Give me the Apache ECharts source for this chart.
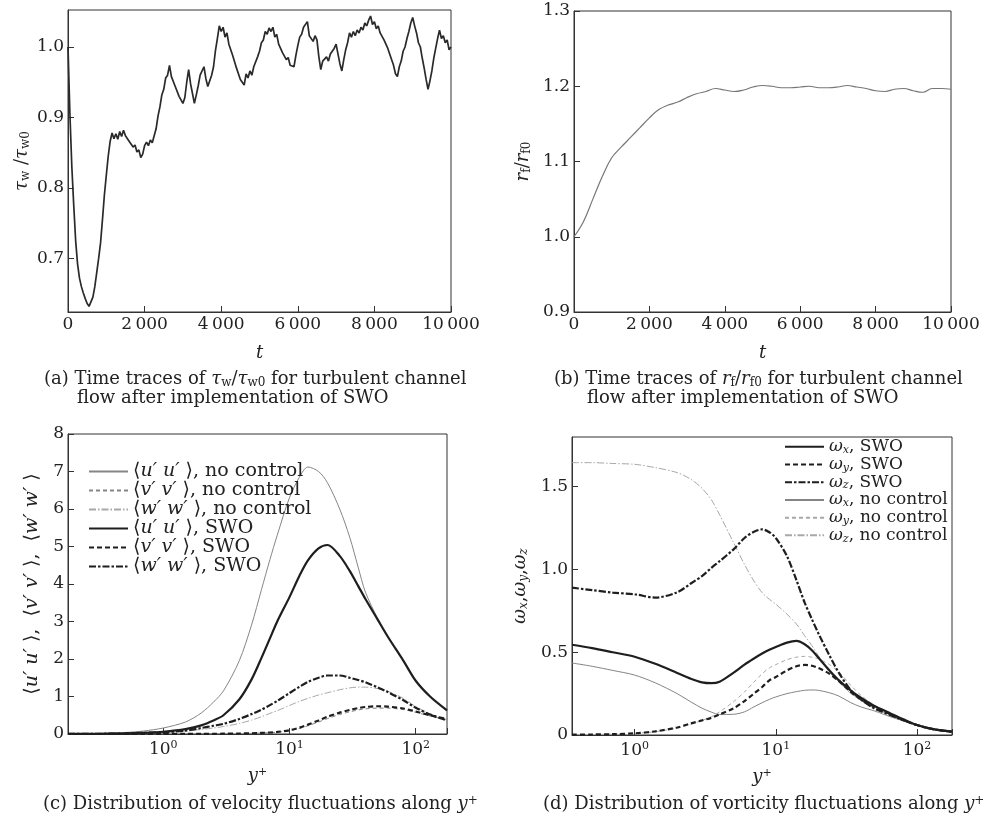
<!DOCTYPE html>
<html><head><meta charset="utf-8">
<script src="https://cdn.jsdelivr.net/npm/echarts@6/dist/echarts.min.js"></script>
<style>html,body{margin:0;padding:0;background:#fff}#c{width:985px;height:822px}</style>
</head><body><div id="c"></div>
<script>
// ---------- (a) tau_w / tau_w0 time trace (t step 50) ----------
const tauStep = 50;
const tauVals = [
1.000,0.905,0.830,0.775,0.725,0.692,0.672,0.660,0.651,0.643,
0.636,0.632,0.633,0.645,0.660,0.680,0.700,0.722,0.755,0.790,
0.818,0.845,0.866,0.878,0.870,0.877,0.869,0.880,0.873,0.882,
0.874,0.876,0.866,0.868,0.858,0.861,0.851,0.854,0.843,0.848,
0.860,0.865,0.860,0.868,0.864,0.874,0.884,0.902,0.915,0.932,
0.940,0.956,0.960,0.974,0.958,0.960,0.944,0.946,0.930,0.930,
0.920,0.928,0.950,0.968,0.948,0.934,0.920,0.932,0.945,0.960,
0.962,0.972,0.955,0.944,0.942,0.960,0.972,0.995,1.012,1.030,
1.022,1.028,1.014,1.020,1.004,1.006,0.988,0.988,0.970,0.970,
0.954,0.954,0.946,0.962,0.956,0.966,0.960,0.972,0.972,0.986,
0.994,1.006,1.010,1.022,1.018,1.027,1.022,1.028,1.014,1.018,
1.004,1.006,0.992,0.994,0.982,0.985,0.974,0.976,0.972,0.988,
1.002,1.014,1.018,1.028,1.030,1.036,1.016,1.018,1.008,1.016,
1.010,0.986,0.968,0.980,0.978,0.986,0.980,0.990,0.988,0.998,
1.004,0.990,0.976,0.966,0.982,0.996,1.006,1.020,1.014,1.022,
1.016,1.024,1.020,1.028,1.024,1.034,1.030,1.038,1.044,1.032,
1.036,1.026,1.030,1.020,1.022,1.010,1.012,0.998,0.998,0.982,
0.974,0.962,0.958,0.972,0.980,0.994,1.000,1.012,1.022,1.034,
1.042,1.030,1.020,1.006,1.000,0.984,0.970,0.954,0.940,0.952,
0.966,0.984,0.998,1.012,1.024,1.012,1.016,1.006,1.010,0.996,
1.000];
const tauTicks = [0.7, 0.8, 0.9, 1.0];

// ---------- (b) r_f / r_f0 time trace (t step 250) ----------
const rfStep = 250;
const rfVals = [1.000,1.020,1.050,1.080,1.105,1.119,1.132,1.145,1.158,1.169,
1.175,1.179,1.185,1.190,1.193,1.197,1.195,1.193,1.195,1.199,
1.201,1.200,1.198,1.198,1.199,1.200,1.198,1.198,1.199,1.201,
1.199,1.197,1.194,1.193,1.196,1.197,1.194,1.192,1.197,1.197,1.196];

// ---------- (c) velocity fluctuations ----------
const cYplus = [0.176,0.3,0.5,0.7,1,1.5,2,2.5,3,4,5,6,7,8,10,12,14,17,20,25,30,35,40,50,60,80,100,130,177];
const uuNC  = [0.005,0.012,0.04,0.08,0.16,0.32,0.56,0.85,1.15,1.95,2.9,3.85,4.65,5.3,6.3,6.85,7.12,7.0,6.7,6.0,5.25,4.45,3.78,3.08,2.6,1.95,1.42,1.0,0.63];
const vvNC  = [0,0,0,0.001,0.001,0.002,0.003,0.005,0.007,0.011,0.017,0.026,0.035,0.048,0.088,0.15,0.22,0.32,0.41,0.52,0.59,0.64,0.67,0.69,0.69,0.65,0.58,0.48,0.38];
const wwNC  = [0.002,0.004,0.012,0.024,0.045,0.08,0.12,0.16,0.2,0.28,0.37,0.46,0.55,0.62,0.76,0.87,0.95,1.04,1.1,1.18,1.23,1.25,1.25,1.21,1.14,0.95,0.73,0.54,0.37];
const uuSWO = [0.003,0.006,0.015,0.03,0.06,0.13,0.23,0.36,0.5,0.92,1.45,2.03,2.55,3.0,3.65,4.22,4.63,4.95,5.04,4.75,4.35,3.95,3.6,3.05,2.6,1.95,1.42,1.0,0.63];
const vvSWO = [0,0,0.001,0.001,0.002,0.003,0.004,0.006,0.008,0.013,0.02,0.03,0.04,0.055,0.1,0.17,0.25,0.36,0.46,0.57,0.64,0.69,0.72,0.74,0.73,0.68,0.6,0.5,0.4];
const wwSWO = [0.002,0.005,0.015,0.03,0.05,0.09,0.16,0.22,0.27,0.4,0.53,0.65,0.77,0.88,1.09,1.26,1.39,1.5,1.56,1.56,1.5,1.44,1.38,1.24,1.12,0.9,0.7,0.52,0.36];
const cNames = ['⟨u′u′⟩, no control','⟨v′v′⟩, no control','⟨w′w′⟩, no control','⟨u′u′⟩, SWO','⟨v′v′⟩, SWO','⟨w′w′⟩, SWO'];

// ---------- (d) vorticity fluctuations ----------
const dYplus = [0.36,0.5,0.7,1,1.4,2,2.5,3,3.5,4,5,6,7,8,9,10,12,14,16,18,20,24,28,34,40,50,65,80,100,130,177];
const wxSWO = [0.545,0.525,0.500,0.473,0.43,0.375,0.34,0.318,0.313,0.322,0.375,0.425,0.462,0.492,0.515,0.532,0.558,0.568,0.548,0.512,0.468,0.39,0.33,0.268,0.225,0.175,0.13,0.095,0.06,0.035,0.02];
const wySWO = [0.002,0.003,0.005,0.01,0.022,0.045,0.07,0.088,0.104,0.125,0.16,0.205,0.25,0.29,0.33,0.35,0.39,0.415,0.423,0.418,0.405,0.37,0.325,0.26,0.215,0.17,0.125,0.09,0.06,0.035,0.02];
const wzSWO = [0.89,0.875,0.86,0.85,0.83,0.862,0.915,0.96,1.01,1.05,1.12,1.19,1.228,1.242,1.225,1.19,1.08,0.935,0.8,0.7,0.615,0.48,0.375,0.27,0.215,0.16,0.12,0.09,0.06,0.035,0.02];
const wxNC  = [0.435,0.415,0.39,0.362,0.315,0.25,0.2,0.162,0.138,0.124,0.125,0.14,0.17,0.195,0.215,0.23,0.25,0.262,0.27,0.272,0.27,0.255,0.235,0.195,0.17,0.145,0.11,0.085,0.06,0.035,0.02];
const wyNC  = [0.002,0.003,0.005,0.01,0.02,0.042,0.065,0.088,0.11,0.14,0.2,0.26,0.32,0.37,0.405,0.425,0.455,0.47,0.475,0.47,0.46,0.425,0.38,0.3,0.24,0.18,0.125,0.09,0.06,0.035,0.02];
const wzNC  = [1.645,1.645,1.64,1.635,1.615,1.585,1.545,1.49,1.42,1.33,1.165,1.03,0.93,0.86,0.82,0.79,0.73,0.67,0.6,0.54,0.48,0.38,0.32,0.25,0.21,0.16,0.12,0.09,0.06,0.035,0.02];
const dNames = ['ωx, SWO','ωy, SWO','ωz, SWO','ωx, no control','ωy, no control','ωz, no control'];

// ---------- build ----------
const F = 'DejaVu Serif';
const INK = '#222';
const pairs = (xs, ys) => ys.map((v, i) => [xs[i], v]);
const stepPairs = (step, ys) => ys.map((v, i) => [i * step, v]);
const thou = v => v >= 1000 ? String(v).replace(/\B(?=(\d{3})+(?!\d))/g, '\u2009') : String(v);
const logLab = v => { const e = Math.round(Math.log10(v)); return Math.abs(v - Math.pow(10, e)) < 1e-6 * Math.pow(10, e) ? '{b|10}{p|' + e + '}' : ''; };
const richBase = {
  i: {fontFamily: F, fontStyle: 'italic', fontSize: 18, color: INK},
  n: {fontFamily: F, fontSize: 18, color: INK},
  ic: {fontFamily: F, fontStyle: 'italic', fontSize: 19, color: INK},
  nc: {fontFamily: F, fontSize: 19, color: INK},
  s: {fontFamily: F, fontSize: 12, color: INK, verticalAlign: 'bottom', padding: [8, 0, 0, 0]},
  si: {fontFamily: F, fontStyle: 'italic', fontSize: 12, color: INK, verticalAlign: 'bottom', padding: [8, 0, 0, 0]},
  p: {fontFamily: F, fontSize: 11, color: INK, verticalAlign: 'top', padding: [0, 0, 8, 0]},
  b: {fontFamily: F, fontSize: 17, color: INK}
};
const axLine = {show: true, lineStyle: {color: '#333', width: 1}};
const axTick = {show: true, inside: true, length: 6, lineStyle: {color: '#333'}};
const lab = extra => Object.assign({color: INK, fontFamily: F, fontSize: 17, margin: 4, rich: richBase}, extra || {});
const nameStyle = {fontFamily: F, fontSize: 18, color: INK, rich: richBase};

const grids = [
  {left: 68, top: 10, width: 383, height: 302},
  {left: 574, top: 11, width: 377, height: 301},
  {left: 68, top: 434, width: 379, height: 300},
  {left: 572, top: 437, width: 380, height: 298}
].map(g => Object.assign({show: true, borderColor: '#333', borderWidth: 1, containLabel: false}, g));

const xAxes = [
  {gridIndex: 0, type: 'value', min: 0, max: 10000, interval: 2000, axisLabel: lab({formatter: thou}),
   name: '{i|t}', nameLocation: 'middle', nameGap: 32, nameTextStyle: nameStyle},
  {gridIndex: 1, type: 'value', min: 0, max: 10000, interval: 2000, axisLabel: lab({formatter: thou}),
   name: '{i|t}', nameLocation: 'middle', nameGap: 32, nameTextStyle: nameStyle},
  {gridIndex: 2, type: 'log', logBase: 10, min: 0.176, max: 177, axisLabel: lab({formatter: logLab, margin: 6}),
   name: '{i|y}{p|+}', nameLocation: 'middle', nameGap: 33, nameTextStyle: nameStyle},
  {gridIndex: 3, type: 'log', logBase: 10, min: 0.36, max: 177, axisLabel: lab({formatter: logLab, margin: 6}),
   name: '{i|y}{p|+}', nameLocation: 'middle', nameGap: 33, nameTextStyle: nameStyle}
].map(a => Object.assign({axisLine: axLine, axisTick: axTick, splitLine: {show: false}, minorTick: {show: false}}, a));

const yAxes = [
  {gridIndex: 0, type: 'value', min: 0.624, max: 1.0525,
   axisLabel: lab({customValues: tauTicks, formatter: v => v.toFixed(1)}), axisTick: Object.assign({customValues: tauTicks}, axTick),
   name: '{i|τ}{s|w}{n| /}{i|τ}{s|w0}', nameLocation: 'middle', nameGap: 36, nameRotate: 90, nameTextStyle: nameStyle},
  {gridIndex: 1, type: 'value', min: 0.9, max: 1.3, interval: 0.1,
   axisLabel: lab({formatter: v => v.toFixed(1)}),
   name: '{i|r}{s|f}{n|/}{i|r}{s|f0}', nameLocation: 'middle', nameGap: 41, nameRotate: 90, nameTextStyle: nameStyle},
  {gridIndex: 2, type: 'value', min: 0, max: 8, interval: 1, axisLabel: lab(),
   name: '{nc|⟨}{ic|u′ u′ }{nc|⟩,  ⟨}{ic|v′ v′ }{nc|⟩,  ⟨}{ic|w′ w′ }{nc|⟩}', nameLocation: 'middle', nameGap: 26, nameRotate: 90, nameTextStyle: nameStyle},
  {gridIndex: 3, type: 'value', min: 0, max: 1.8,
   axisLabel: lab({customValues: [0, 0.5, 1, 1.5], formatter: v => v === 0 ? '0' : v.toFixed(1)}),
   axisTick: Object.assign({customValues: [0, 0.5, 1, 1.5]}, axTick),
   name: '{i|ω}{si|x}{n|,}{i|ω}{si|y}{n|,}{i|ω}{si|z}', nameLocation: 'middle', nameGap: 42, nameRotate: 90, nameTextStyle: nameStyle}
].map(a => Object.assign({axisLine: axLine, axisTick: axTick, splitLine: {show: false}}, a));

const BLK = '#1e1e1e', GRY = '#858585', LGR = '#a8a8a8';
const ln = (name, xi, data, color, width, type, smooth) => ({
  name, type: 'line', xAxisIndex: xi, yAxisIndex: xi, data, showSymbol: false, symbol: 'none',
  smooth: smooth === undefined ? 0.3 : smooth, lineStyle: {color, width, type: type || 'solid'}, itemStyle: {color},
  emphasis: {disabled: true}, silent: true, z: width > 1.5 ? 3 : 2
});
const DASH_T = [4, 3], DASH_B = [5, 3], DD_T = [7, 2, 1.5, 2], DD_B = [7, 2, 2.5, 2];

const series = [
  ln('tau', 0, stepPairs(tauStep, tauVals), '#2a2a2a', 1.7, 'solid', false),
  ln('rf', 1, stepPairs(rfStep, rfVals), '#777', 1.2, 'solid', 0.4),
  ln(cNames[0], 2, pairs(cYplus, uuNC), GRY, 1, 'solid'),
  ln(cNames[1], 2, pairs(cYplus, vvNC), GRY, 1, DASH_T),
  ln(cNames[2], 2, pairs(cYplus, wwNC), LGR, 1, DD_T),
  ln(cNames[3], 2, pairs(cYplus, uuSWO), BLK, 2.2, 'solid'),
  ln(cNames[4], 2, pairs(cYplus, vvSWO), BLK, 2.2, DASH_B),
  ln(cNames[5], 2, pairs(cYplus, wwSWO), BLK, 2.2, DD_B),
  ln(dNames[0], 3, pairs(dYplus, wxSWO), BLK, 2.2, 'solid'),
  ln(dNames[1], 3, pairs(dYplus, wySWO), BLK, 2.2, DASH_B),
  ln(dNames[2], 3, pairs(dYplus, wzSWO), BLK, 2.2, DD_B),
  ln(dNames[3], 3, pairs(dYplus, wxNC), GRY, 1, 'solid'),
  ln(dNames[4], 3, pairs(dYplus, wyNC), LGR, 1, DASH_T),
  ln(dNames[5], 3, pairs(dYplus, wzNC), LGR, 1, DD_T)
];
series[0].z = 3;

const legendBase = {orient: 'vertical', itemWidth: 39, itemHeight: 12, itemGap: 0, padding: 0, selectedMode: false,
  itemStyle: {opacity: 0, borderWidth: 0}};
const legends = [
  Object.assign({}, legendBase, {data: cNames, left: 88, top: 462,
    textStyle: {fontFamily: F, fontSize: 19, color: INK, lineHeight: 17.8,
      rich: {i: {fontFamily: F, fontStyle: 'italic', fontSize: 19, color: INK}}},
    formatter: n => n.replace(/⟨(.)′(.)′⟩/, '⟨{i|$1′ $2′ }⟩')}),
  Object.assign({}, legendBase, {data: dNames, left: 784, top: 438,
    textStyle: {fontFamily: F, fontSize: 17, color: INK, lineHeight: 17.7,
      rich: {i: {fontFamily: F, fontStyle: 'italic', fontSize: 17, color: INK},
             s: {fontFamily: F, fontStyle: 'italic', fontSize: 11, color: INK, verticalAlign: 'bottom', padding: [7, 0, 0, 0]}}},
    formatter: n => '{i|ω}{s|' + n.charAt(1) + '}' + n.slice(2)})
];

const capRich = {
  i: {fontFamily: F, fontStyle: 'italic', fontSize: 18, color: INK},
  s: {fontFamily: F, fontSize: 12, color: INK, verticalAlign: 'bottom', padding: [7, 0, 0, 0]},
  p: {fontFamily: F, fontSize: 12, color: INK, verticalAlign: 'top', padding: [0, 0, 7, 0]}
};
const cap = (text, left, top) => ({text, left, top, padding: 0,
  textStyle: {fontFamily: F, fontSize: 18, fontWeight: 'normal', color: INK, rich: capRich}});
const titles = [
  cap('(a) Time traces of {i|τ}{s|w}/{i|τ}{s|w0} for turbulent channel', 44, 370),
  cap('flow after implementation of SWO', 77, 389),
  cap('(b) Time traces of {i|r}{s|f}/{i|r}{s|f0} for turbulent channel', 554, 370),
  cap('flow after implementation of SWO', 587, 389),
  cap('(c) Distribution of velocity fluctuations along {i|y}{p|+}', 43, 795),
  cap('(d) Distribution of vorticity fluctuations along {i|y}{p|+}', 543, 795)
];

const chart = echarts.init(document.getElementById('c'), null, {renderer: 'canvas'});
chart.setOption({
  animation: false, backgroundColor: '#fff',
  title: titles, grid: grids, xAxis: xAxes, yAxis: yAxes, legend: legends, series
});
</script></body></html>
